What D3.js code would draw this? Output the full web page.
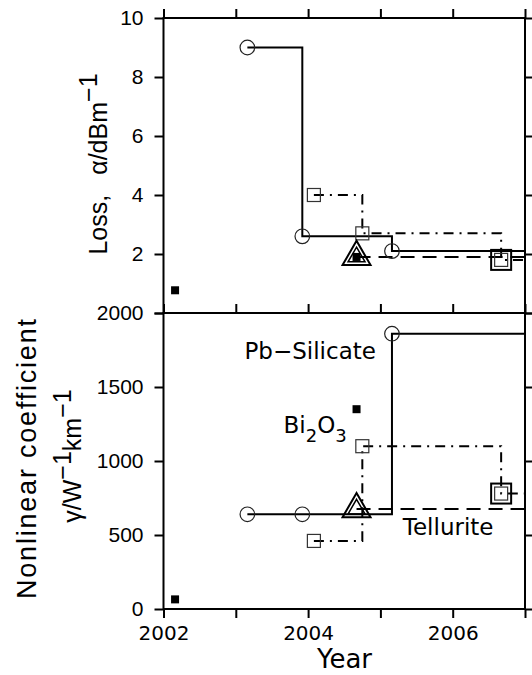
<!DOCTYPE html>
<html>
<head>
<meta charset="utf-8">
<script src="https://d3js.org/d3.v7.min.js"></script>
<style>
    body { margin: 0; background: #fff; }
    .axis text { font-family: "Liberation Sans", Arial, sans-serif; fill: #000; }
    .xaxis text { font-family: "DejaVu Sans", sans-serif; }
    .lab { font-family: "DejaVu Sans", sans-serif; font-size: 23px; }
    .ttl { font-family: "Liberation Sans", Arial, sans-serif; }
</style>
</head>
<body>
<script>
// ticks
var xTicks = [2002, 2003, 2004, 2005, 2006, 2007];
var xLabels = [2002, 2004, 2006];
var lossTicks = [0, 2, 4, 6, 8, 10];
var gammaTicks = [0, 500, 1000, 1500, 2000];

// Pb-silicate : solid line, open circles
var pbYear = [2003.16, 2003.92, 2005.16];
var pbLoss = [9.0, 2.6, 2.1];
var pbGamma = [640, 640, 1860];

// Bi2O3 : dash-dot line, open squares
var biYear = [2004.08, 2004.75, 2006.67];
var biLoss = [4.0, 2.7, 1.8];
var biGamma = [460, 1100, 780];

// Tellurite : dashed line, double triangle
var teYear = [2004.67];
var teLoss = [1.9];
var teGamma = [675];

// double square point
var dsYear = [2006.67];
var dsLoss = [1.8];
var dsGamma = [780];

// other single results : filled squares
var otYear = [2002.16, 2004.67];
var otLoss = [0.77, 1.9];
var otGamma = [65, 1350];

// in-plot labels (year, gamma)
var labText = ["Pb\u2212Silicate", "Tellurite"];
var labYear = [2003.12, 2005.31];
var labGamma = [1690, 500];
var biLabYear = 2003.66, biLabGamma = 1190;

var width = 532, height = 675;
var left = 163.5, right = 525, top1 = 18, mid = 313, bottom = 609;

var svg = d3.select("body").append("svg")
    .attr("width", width)
    .attr("height", height);

var x = d3.scaleLinear().domain([2002, 2007]).range([left, right]);
var yLoss = d3.scaleLinear().domain([0, 10]).range([mid, top1]);
var yGamma = d3.scaleLinear().domain([0, 2000]).range([bottom, mid]);

function styleAxis(g) {
    g.select(".domain").remove();
    g.selectAll(".tick line").attr("stroke", "#000").attr("stroke-width", 2);
}

// y axes
function yAxes(y, ticks, fmt) {
    svg.append("g")
        .attr("class", "axis")
        .attr("transform", "translate(" + left + ",0)")
        .call(d3.axisLeft(y).tickValues(ticks).tickSize(9).tickPadding(11).tickFormat(fmt))
        .call(styleAxis)
        .selectAll("text").style("font-size", "21px");
    svg.append("g")
        .attr("transform", "translate(" + right + ",0)")
        .call(d3.axisRight(y).tickValues(ticks).tickSize(7).tickFormat(""))
        .call(styleAxis);
}
yAxes(yLoss, lossTicks, function (d) { return d === 0 ? "" : d; });
yAxes(yGamma, gammaTicks, function (d) { return d; });

// x axes
svg.append("g").attr("transform", "translate(0," + top1 + ")")
    .call(d3.axisTop(x).tickValues(xTicks).tickSize(9).tickFormat("")).call(styleAxis);
svg.append("g").attr("transform", "translate(0," + mid + ")")
    .call(d3.axisTop(x).tickValues(xTicks).tickSize(9).tickFormat("")).call(styleAxis);
svg.append("g")
    .attr("class", "axis xaxis")
    .attr("transform", "translate(0," + bottom + ")")
    .call(d3.axisBottom(x).tickValues(xTicks).tickSize(9).tickPadding(8)
        .tickFormat(function (d) { return xLabels.indexOf(d) >= 0 ? d : ""; }))
    .call(styleAxis)
    .selectAll("text").style("font-size", "20px");

// frames
[[top1, mid], [mid, bottom]].forEach(function (p) {
    svg.append("rect")
        .attr("x", left).attr("y", p[0])
        .attr("width", right - left).attr("height", p[1] - p[0])
        .attr("fill", "none").attr("stroke", "#000").attr("stroke-width", 2);
});

function stepPts(years, vals) {
    var p = years.map(function (t, i) { return [t, vals[i]]; });
    p.push([x.domain()[1], vals[vals.length - 1]]);
    return p;
}

function drawPanel(y, pb, bi, te, ds, ot) {
    var line = d3.line()
        .x(function (d) { return x(d[0]); })
        .y(function (d) { return y(d[1]); })
        .curve(d3.curveStepAfter);

    var g = svg.append("g");

    g.append("path").datum(stepPts(pbYear, pb)).attr("d", line)
        .attr("fill", "none").attr("stroke", "#000").attr("stroke-width", 2);
    g.append("path").datum(stepPts(biYear, bi)).attr("d", line)
        .attr("fill", "none").attr("stroke", "#000").attr("stroke-width", 2)
        .attr("stroke-dasharray", "10,6,2,6");
    g.append("path").datum(stepPts(teYear, te)).attr("d", line)
        .attr("fill", "none").attr("stroke", "#000").attr("stroke-width", 2)
        .attr("stroke-dasharray", "14,8");

    // circles
    g.selectAll(".pb").data(pbYear).enter().append("circle")
        .attr("cx", function (d) { return x(d); })
        .attr("cy", function (d, i) { return y(pb[i]); })
        .attr("r", 7.3)
        .attr("fill", "none").attr("stroke", "#222").attr("stroke-width", 1.2);

    // open squares
    g.selectAll(".bi").data(biYear).enter().append("rect")
        .attr("x", function (d) { return x(d) - 6.5; })
        .attr("y", function (d, i) { return y(bi[i]) - 6.5; })
        .attr("width", 13).attr("height", 13)
        .attr("fill", "none").attr("stroke", "#333").attr("stroke-width", 1.2);

    // double square
    g.selectAll(".ds").data(dsYear).enter().append("rect")
        .attr("x", function (d) { return x(d) - 10; })
        .attr("y", function (d, i) { return y(ds[i]) - 10; })
        .attr("width", 20).attr("height", 20)
        .attr("fill", "none").attr("stroke", "#000").attr("stroke-width", 2);

    // double triangle
    [339, 125].forEach(function (s, k) {
        g.selectAll(".te" + k).data(teYear).enter().append("path")
            .attr("d", d3.symbol().type(d3.symbolTriangle).size(s))
            .attr("transform", function (d, i) { return "translate(" + x(d) + "," + y(te[i]) + ")"; })
            .attr("fill", "none").attr("stroke", "#000").attr("stroke-width", k === 0 ? 2 : 1.5);
    });

    // filled squares
    g.selectAll(".ot").data(otYear).enter().append("rect")
        .attr("x", function (d) { return x(d) - 4; })
        .attr("y", function (d, i) { return y(ot[i]) - 4; })
        .attr("width", 8).attr("height", 8)
        .attr("fill", "#000");
}

drawPanel(yLoss, pbLoss, biLoss, teLoss, dsLoss, otLoss);
drawPanel(yGamma, pbGamma, biGamma, teGamma, dsGamma, otGamma);

// labels in the lower panel
labText.forEach(function (t, i) {
    svg.append("text").attr("class", "lab")
        .attr("x", x(labYear[i])).attr("y", yGamma(labGamma[i]))
        .text(t);
});
var bl = svg.append("text").attr("class", "lab")
    .attr("x", x(biLabYear)).attr("y", yGamma(biLabGamma));
bl.append("tspan").text("Bi");
bl.append("tspan").attr("dy", 9).style("font-size", "18px").text("2");
bl.append("tspan").attr("dy", -9).text("O");
bl.append("tspan").attr("dy", 9).style("font-size", "18px").text("3");

// axis titles
svg.append("text").attr("class", "ttl")
    .attr("transform", "translate(344.5,668)")
    .attr("text-anchor", "middle")
    .style("font-family", "DejaVu Sans, sans-serif")
    .style("font-size", "26px")
    .text("Year");

var t1 = svg.append("text").attr("class", "ttl")
    .attr("transform", "translate(107,164) rotate(-90)")
    .attr("text-anchor", "middle")
    .style("font-size", "25px");
t1.append("tspan").text("Loss,");
t1.append("tspan").attr("dx", 20).text("\u03b1/dBm");
t1.append("tspan").attr("dy", -10).text("\u22121");

svg.append("text").attr("class", "ttl")
    .attr("transform", "translate(36,459) rotate(-90)")
    .attr("text-anchor", "middle")
    .attr("textLength", 280)
    .attr("lengthAdjust", "spacing")
    .style("font-size", "27px")
    .text("Nonlinear coefficient");

var t3 = svg.append("text").attr("class", "ttl")
    .attr("transform", "translate(81,456) rotate(-90)")
    .attr("text-anchor", "middle")
    .style("font-size", "25px");
t3.append("tspan").text("\u03b3/W");
t3.append("tspan").attr("dy", -10).text("\u22121");
t3.append("tspan").attr("dy", 10).text("km");
t3.append("tspan").attr("dy", -10).text("\u22121");
</script>
</body>
</html>
